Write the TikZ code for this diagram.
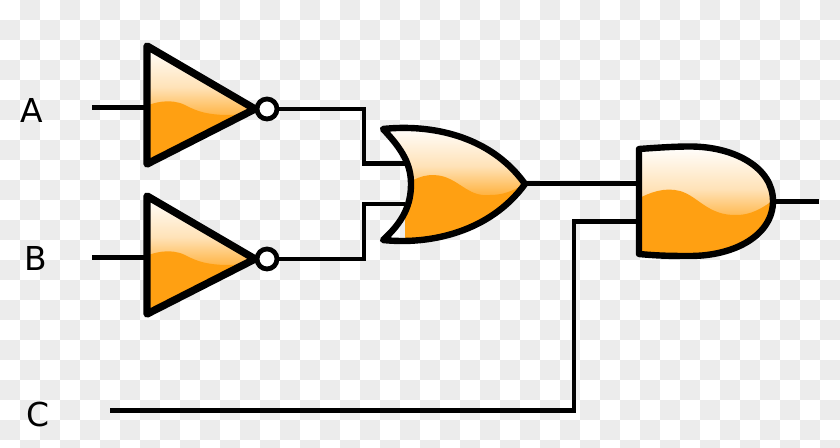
\documentclass[tikz,border=0pt]{standalone}
\usepackage{fontspec}
\setmainfont{DejaVu Sans}
\definecolor{gatefill}{HTML}{FFA012}
\definecolor{checker}{HTML}{ECECEC}
\tikzset{
  wire/.style={line width=3.4pt, line join=miter},
  gate/.style={draw=black, line width=4.8pt, line join=round},
  notgate/.style={gate, line width=5.6pt},
  bubble/.style={draw=black, fill=white, circle, line width=3.6pt, minimum size=15pt, inner sep=0pt},
  lbl/.style={font=\fontsize{24.7}{28}\selectfont, inner sep=0pt},
  gloss/.style={top color=white, bottom color=gatefill, middle color=gatefill!30!white, draw=none},
}
\begin{document}
\begin{tikzpicture}[x=0.75pt,y=-0.75pt]
    \useasboundingbox (0,0) rectangle (840,448);
    \fill[white] (0,0) rectangle (840,448);
    % checks
    \foreach \i in {0,...,41} {
      \foreach \j in {0,...,22} {
        \pgfmathparse{int(mod(\i+\j,2))}
        \ifnum\pgfmathresult=1
          \fill[checker] (20*\i,20*\j) rectangle ++(20,20);
        \fi
      }
    }

    \node[lbl] (A) at (32,111) {A};
    \node[lbl] (B) at (35.5,259) {B};
    \node[lbl] (C) at (38,415) {C};

    \coordinate (ain) at (92,107.5);
    \coordinate (bin) at (92,257.5);
    \coordinate (cin) at (110,410.5);
    \coordinate (nota) at (147,107.5);
    \coordinate (notb) at (147,257.5);
    \node[bubble] (bubblea) at (267,109) {};
    \node[bubble] (bubbleb) at (267,259) {};
    \coordinate (ora) at (405,163.5);
    \coordinate (orb) at (405,204);
    \coordinate (orout) at (525,183.5);
    \coordinate (anda) at (639,183.5);
    \coordinate (andb) at (639,221.5);
    \coordinate (andout) at (773,201.5);
    \coordinate (out) at (819,201.5);

    % wires
    \draw[wire] (ain) -- (nota);
    \draw[wire] (bin) -- (notb);
    \draw[wire] (bubblea.east) -- (364,109) -- (364,163.5) -- (ora);
    \draw[wire] (bubbleb.east) -- (364,259) -- (364,204) -- (orb);
    \draw[wire] (orout) -- (anda);
    \draw[wire] (cin) -- (574,410.5) -- (574,221.5) -- (andb);
    \draw[wire] (andout) -- (out);

    % not gates
    \begin{scope}
      \clip (147,46) -- (255,109) -- (147,164) -- cycle;
      \shade[gloss] (140,46) rectangle (260,128);
      \fill[gatefill] (140,108) .. controls (155,102) and (170,98) .. (185,105) .. controls (200,113) and (215,118) .. (258,113) -- (258,170) -- (140,170) -- cycle;
    \end{scope}
    \draw[notgate] (147,46) -- (255,109) -- (147,164) -- cycle;

    \begin{scope}
      \clip (147,196) -- (255,259) -- (147,314) -- cycle;
      \shade[gloss] (140,196) rectangle (260,278);
      \fill[gatefill] (140,258) .. controls (155,252) and (170,248) .. (185,255) .. controls (200,263) and (215,268) .. (258,263) -- (258,320) -- (140,320) -- cycle;
    \end{scope}
    \draw[notgate] (147,196) -- (255,259) -- (147,314) -- cycle;

    % or gate
    \begin{scope}
      \clip (383,129) .. controls (430,124) and (490,135) .. (525,184) .. controls (490,232) and (430,245) .. (383,240) .. controls (403,222) and (411,205) .. (411,184) .. controls (411,165) and (403,150) .. (383,129) -- cycle;
      \shade[gloss] (380,126) rectangle (530,206);
      \fill[gatefill] (405,186) .. controls (415,177) and (430,172) .. (445,177) .. controls (462,183) and (470,197) .. (490,195) .. controls (502,195) and (512,192) .. (528,182) -- (528,245) -- (405,245) -- cycle;
    \end{scope}
    \draw[gate] (383,129) .. controls (430,124) and (490,135) .. (525,184) .. controls (490,232) and (430,245) .. (383,240) .. controls (403,222) and (411,205) .. (411,184) .. controls (411,165) and (403,150) .. (383,129) -- cycle;

    % and gate
    \begin{scope}
      \clip (639,149) .. controls (660,147.5) and (675,146.5) .. (690,146.5) .. controls (735,146.5) and (773,168) .. (773,201) .. controls (773,235) and (735,256) .. (690,256) .. controls (675,256) and (660,256) .. (639,254) -- cycle;
      \shade[gloss] (635,146) rectangle (778,232);
      \fill[gatefill] (636,200) .. controls (650,192) and (665,187) .. (680,191) .. controls (698,196) and (708,216) .. (737,215) .. controls (750,215) and (762,209) .. (776,198) -- (776,262) -- (636,262) -- cycle;
    \end{scope}
    \draw[gate] (639,149) .. controls (660,147.5) and (675,146.5) .. (690,146.5) .. controls (735,146.5) and (773,168) .. (773,201) .. controls (773,235) and (735,256) .. (690,256) .. controls (675,256) and (660,256) .. (639,254) -- cycle;

  \end{tikzpicture}
\end{document}
